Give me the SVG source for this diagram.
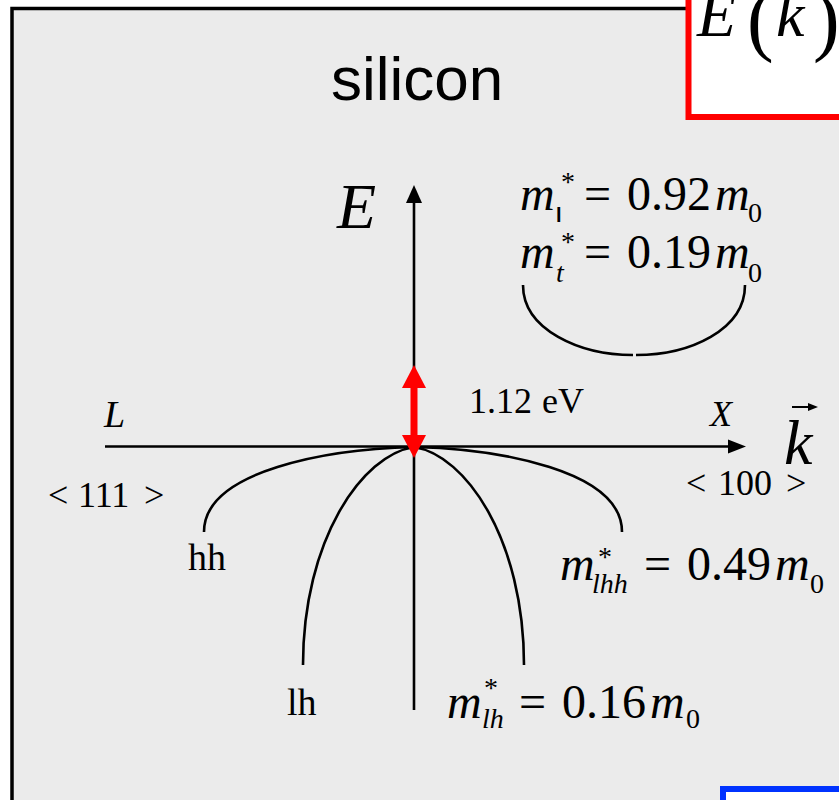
<svg xmlns="http://www.w3.org/2000/svg" width="839" height="800" viewBox="0 0 839 800">
<style>
.mi{font-family:"Liberation Serif",serif;font-style:italic;fill:#000}
.mr{font-family:"Liberation Serif",serif;fill:#000}
.ln{fill:none;stroke:#000;stroke-width:2.6}
</style>
<rect width="839" height="800" fill="#fff"/>
<g id="frame">
<rect x="12" y="8.5" width="900" height="900" fill="#ebebeb" stroke="#000" stroke-width="3.5"/>
</g>
<g id="title-box">
<rect x="688.5" y="-20" width="200" height="137" fill="#fff" stroke="#ff0000" stroke-width="6"/>
<text class="mi" x="697" y="36" font-size="64">E</text>
<text class="mr" x="747" y="46" font-size="80">(</text>
<text class="mi" x="776" y="36" font-size="64">k</text>
<text class="mr" x="813" y="46" font-size="80">)</text>
</g>
<g id="blue-box">
<rect x="723" y="789" width="200" height="100" fill="#fff" stroke="#0033ff" stroke-width="6"/>
</g>
<g id="title">
<text x="331" y="100" font-family="Liberation Sans, Arial, sans-serif" font-size="62">silicon</text>
</g>
<g id="connectors">
<line class="ln" x1="414" y1="200" x2="414" y2="710"/>
<polygon points="414,185 406,203 422,203" fill="#000"/>
<line class="ln" x1="105" y1="446.5" x2="732" y2="446.5"/>
<polygon points="746,446.5 728,439.5 728,453.5" fill="#000"/>
<path class="ln" d="M414,447 C330,449 204,470 204,532"/>
<path class="ln" d="M414,447 C498,449 622,470 622,532"/>
<path class="ln" d="M414,447 C362,455 303,540 303,665"/>
<path class="ln" d="M414,447 C466,455 524,540 524,665"/>
<path class="ln" d="M523,285 C523,330 580,355 633,355"/>
<path class="ln" d="M636,355 C690,355 745,330 745,285"/>
<line x1="792" y1="407" x2="811" y2="407" stroke="#000" stroke-width="2"/>
<polygon points="818,407 808,403 808,411" fill="#000"/>
</g>
<g id="gap-arrow">
<rect x="410.5" y="385" width="7" height="52" fill="#ff0000"/>
<polygon points="414,365 402,388 426,388" fill="#ff0000"/>
<polygon points="414,458 402,435 426,435" fill="#ff0000"/>
<text class="mr" font-size="36" y="413"><tspan x="469">1.12</tspan><tspan x="542">eV</tspan></text>
</g>
<g id="axis-labels">
<text class="mi" x="337" y="228" font-size="64">E</text>
<text class="mi" x="104" y="427" font-size="38">L</text>
<text class="mi" x="710" y="426" font-size="36">X</text>
<text class="mi" x="784" y="464" font-size="64">k</text>
<text class="mr" font-size="36" y="507"><tspan x="48">&lt;</tspan><tspan x="78">111</tspan><tspan x="144">&gt;</tspan></text>
<text class="mr" font-size="36" y="495"><tspan x="686">&lt;</tspan><tspan x="718">100</tspan><tspan x="786">&gt;</tspan></text>
</g>
<g id="electron-mass">
<text class="mi" x="520" y="210" font-size="48">m</text>
<text class="mr" x="561" y="191" font-size="28">*</text>
<text x="556" y="222" font-family="Liberation Sans, Arial, sans-serif" font-weight="bold" font-size="20">l</text>
<text class="mr" x="584" y="210" font-size="48">=</text>
<text class="mr" x="627" y="210" font-size="48">0.92</text>
<text class="mi" x="715" y="210" font-size="48">m</text>
<text class="mr" x="748" y="222" font-size="28">0</text>
<text class="mi" x="520" y="268" font-size="48">m</text>
<text class="mr" x="561" y="251" font-size="28">*</text>
<text class="mi" x="556" y="282" font-size="28">t</text>
<text class="mr" x="584" y="268" font-size="48">=</text>
<text class="mr" x="627" y="268" font-size="48">0.19</text>
<text class="mi" x="715" y="268" font-size="48">m</text>
<text class="mr" x="748" y="282" font-size="28">0</text>
</g>
<g id="hh">
<text class="mr" x="188" y="570" font-size="38">hh</text>
<text class="mi" x="560" y="580" font-size="48">m</text>
<text class="mr" x="598" y="566" font-size="28">*</text>
<text class="mi" x="592" y="593" font-size="28">lhh</text>
<text class="mr" x="644" y="580" font-size="48">=</text>
<text class="mr" x="687" y="580" font-size="48">0.49</text>
<text class="mi" x="775" y="580" font-size="48">m</text>
<text class="mr" x="810" y="593" font-size="28">0</text>
</g>
<g id="lh">
<text class="mr" x="287" y="715" font-size="38">lh</text>
<text class="mi" x="447" y="718" font-size="48">m</text>
<text class="mr" x="484" y="697" font-size="28">*</text>
<text class="mi" x="482" y="728" font-size="28">lh</text>
<text class="mr" x="519" y="718" font-size="48">=</text>
<text class="mr" x="562" y="718" font-size="48">0.16</text>
<text class="mi" x="650" y="718" font-size="48">m</text>
<text class="mr" x="686" y="728" font-size="28">0</text>
</g>
</svg>
